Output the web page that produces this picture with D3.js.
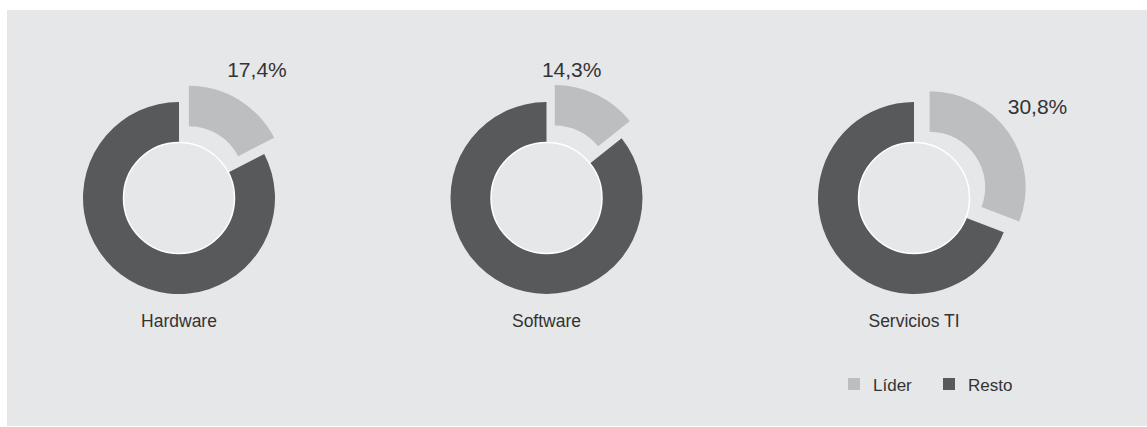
<!DOCTYPE html>
<html>
<head>
<meta charset="utf-8">
<script src="https://cdn.jsdelivr.net/npm/d3@7"></script>
<style>
  body { margin: 0; background: #fff; }
  text { font-family: "Liberation Sans", Arial, sans-serif; fill: #333334; }
</style>
</head>
<body>
<div id="chart"></div>
<script>
const categories = ["Hardware", "Software", "Servicios TI"];
const liderShare = [17.4, 14.3, 30.8];
const restoShare = liderShare.map(v => 100 - v);
const seriesNames = ["Líder", "Resto"];
const seriesColors = ["#bdbec0", "#58595b"];

const width = 1147;
const height = 427;

const outerR = 96;
const innerR = 55.5;
const explode = 19;
const labelR = 150;
// hand nudges for the percentage labels, like in the original layout
const labelNudge = [[0, 0], [-40, 7], [0, -6]];

const svg = d3.select("#chart")
  .append("svg")
  .attr("width", width)
  .attr("height", height);

svg.append("rect")
  .attr("x", 7)
  .attr("y", 10)
  .attr("width", width - 7)
  .attr("height", height - 11)
  .attr("fill", "#e6e7e8");

const x = d3.scalePoint()
  .domain(categories)
  .range([179, 914]);

const cy = 198;

const pie = d3.pie().sort(null).value(d => d);
const arc = d3.arc().innerRadius(innerR).outerRadius(outerR);

const fmt = v => d3.format(".1f")(v).replace(".", ",") + "%";

categories.forEach((cat, i) => {
  const g = svg.append("g")
    .attr("transform", `translate(${x(cat)},${cy})`);

  const slices = pie([liderShare[i], restoShare[i]]);

  g.selectAll("path")
    .data(slices)
    .enter()
    .append("path")
    .attr("d", arc)
    .attr("fill", (d, j) => seriesColors[j])
    .attr("transform", (d, j) => {
      if (j !== 0) return "";
      const a = (d.startAngle + d.endAngle) / 2;
      return `translate(${explode * Math.sin(a)},${-explode * Math.cos(a)})`;
    });

  g.append("circle")
    .attr("r", innerR)
    .attr("fill", "#e6e7e8")
    .attr("stroke", "#fff")
    .attr("stroke-width", 1.5);

  const a0 = (slices[0].startAngle + slices[0].endAngle) / 2;
  g.append("text")
    .attr("x", labelR * Math.sin(a0) + labelNudge[i][0])
    .attr("y", -labelR * Math.cos(a0) + labelNudge[i][1] + 7.5)
    .attr("text-anchor", "middle")
    .attr("font-size", 21)
    .text(fmt(liderShare[i]));

  g.append("text")
    .attr("x", 0)
    .attr("y", 129)
    .attr("text-anchor", "middle")
    .attr("font-size", 17.5)
    .text(cat);
});

const legend = svg.append("g")
  .attr("transform", "translate(848,378)");

const item = legend.selectAll("g")
  .data(seriesNames)
  .enter()
  .append("g")
  .attr("transform", (d, i) => `translate(${i * 95},0)`);

item.append("rect")
  .attr("width", 12)
  .attr("height", 12)
  .attr("fill", (d, i) => seriesColors[i]);

item.append("text")
  .attr("x", 25)
  .attr("y", 13)
  .attr("font-size", 17)
  .text(d => d);
</script>
</body>
</html>
